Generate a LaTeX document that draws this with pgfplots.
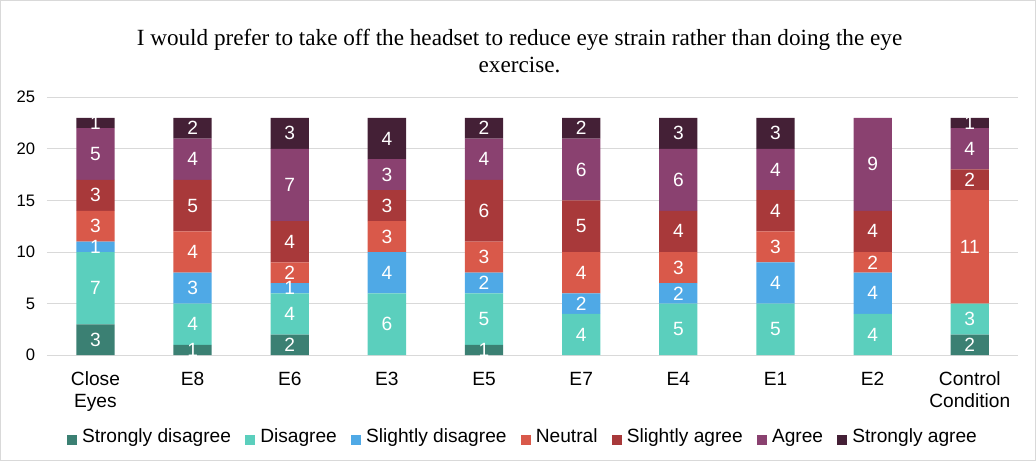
\documentclass[border=0pt]{standalone}
\usepackage{pgfplots}
\pgfplotsset{compat=1.18}
\usepackage{pgfplotstable}
\usepackage{fontspec}
\setmainfont{Liberation Sans}
\newfontfamily\titlefont{Liberation Serif}

\definecolor{csd}{HTML}{3B8073}
\definecolor{cd}{HTML}{5BCFBD}
\definecolor{csld}{HTML}{4FA9E6}
\definecolor{cn}{HTML}{D9594A}
\definecolor{csla}{HTML}{A8393A}
\definecolor{ca}{HTML}{8A4170}
\definecolor{csa}{HTML}{442036}
\definecolor{gridc}{HTML}{D9D9D9}

% answers per condition (x = category index)
\pgfplotstableread{
x sd d sld n sla a sa
0 3 7 1 3 3 5 1
1 1 4 3 4 5 4 2
2 2 4 1 2 4 7 3
3 0 6 4 3 3 3 4
4 1 5 2 3 6 4 2
5 0 4 2 4 5 6 2
6 0 5 2 3 4 6 3
7 0 5 4 3 4 4 3
8 0 4 4 2 4 9 0
9 2 3 0 11 2 4 1
}\answers

\pgfplotsset{
  chartbox/.style={
    at={(51pt,108pt)}, anchor=south west,
    scale only axis,
    width=964pt, height=256pt,
    xmin=-0.5, xmax=9.5,
    ymin=0, ymax=25,
  }
}

\begin{document}
\begin{tikzpicture}[x=1pt,y=1pt]
\draw[gridc, line width=1pt] (5,4) rectangle (1032,460);
\node[font=\titlefont\fontsize{23}{27}\selectfont, align=center] at (520,410)
  {I would prefer to take off the headset to reduce eye strain rather than doing the eye\\exercise.};
\begin{axis}[
    chartbox,
    ybar stacked,
    bar width=38pt,
    ytick={0,5,...,25},
    xtick=data,
    xticklabels={{Close\\Eyes},E8,E6,E3,E5,E7,E4,E1,E2,{Control\\Condition}},
    xticklabel style={align=center, font=\fontsize{19}{22}\selectfont, yshift=-13pt},
    yticklabel style={font=\fontsize{16.5}{19}\selectfont, xshift=-8pt},
    /pgf/number format/assume math mode=true,
    axis line style={draw=none},
    major tick length=0pt,
    ymajorgrids,
    major grid style={draw=gridc, line width=1pt},
    legend columns=7,
    legend style={at={(0.49,-0.328)}, anchor=center, draw=none,
      font=\fontsize{19}{22}\selectfont,
      nodes={text height=0.72em, text depth=0.22em},
      /tikz/every odd column/.append style={column sep=3pt},
      /tikz/every even column/.append style={column sep=12pt}},
    legend image code/.code={\fill[#1] (0pt,-5pt) rectangle (10pt,5pt);},
]
\addplot[fill=csd, draw=none] table[x=x, y=sd] {\answers};
\addlegendentry{Strongly disagree}
\addplot[fill=cd, draw=none] table[x=x, y=d] {\answers};
\addlegendentry{Disagree}
\addplot[fill=csld, draw=none] table[x=x, y=sld] {\answers};
\addlegendentry{Slightly disagree}
\addplot[fill=cn, draw=none] table[x=x, y=n] {\answers};
\addlegendentry{Neutral}
\addplot[fill=csla, draw=none] table[x=x, y=sla] {\answers};
\addlegendentry{Slightly agree}
\addplot[fill=ca, draw=none] table[x=x, y=a] {\answers};
\addlegendentry{Agree}
\addplot[fill=csa, draw=none] table[x=x, y=sa] {\answers};
\addlegendentry{Strongly agree}
\end{axis}
% segment labels, at the middle of each segment
\begin{axis}[
    chartbox,
    hide axis,
]
\addplot[only marks, mark=none, nodes near coords, point meta=explicit symbolic,
  nodes near coords style={anchor=center, text=white, font=\fontsize{19}{22}\selectfont}]
  coordinates {
  (0,1.5)[3] (0,6.5)[7] (0,10.5)[1] (0,12.5)[3] (0,15.5)[3] (0,19.5)[5] (0,22.5)[1]
  (1,0.5)[1] (1,3)[4] (1,6.5)[3] (1,10)[4] (1,14.5)[5] (1,19)[4] (1,22)[2]
  (2,1)[2] (2,4)[4] (2,6.5)[1] (2,8)[2] (2,11)[4] (2,16.5)[7] (2,21.5)[3]
  (3,3)[6] (3,8)[4] (3,11.5)[3] (3,14.5)[3] (3,17.5)[3] (3,21)[4]
  (4,0.5)[1] (4,3.5)[5] (4,7)[2] (4,9.5)[3] (4,14)[6] (4,19)[4] (4,22)[2]
  (5,2)[4] (5,5)[2] (5,8)[4] (5,12.5)[5] (5,18)[6] (5,22)[2]
  (6,2.5)[5] (6,6)[2] (6,8.5)[3] (6,12)[4] (6,17)[6] (6,21.5)[3]
  (7,2.5)[5] (7,7)[4] (7,10.5)[3] (7,14)[4] (7,18)[4] (7,21.5)[3]
  (8,2)[4] (8,6)[4] (8,9)[2] (8,12)[4] (8,18.5)[9]
  (9,1)[2] (9,3.5)[3] (9,10.5)[11] (9,17)[2] (9,20)[4] (9,22.5)[1]
  };
\end{axis}
\end{tikzpicture}
\end{document}
